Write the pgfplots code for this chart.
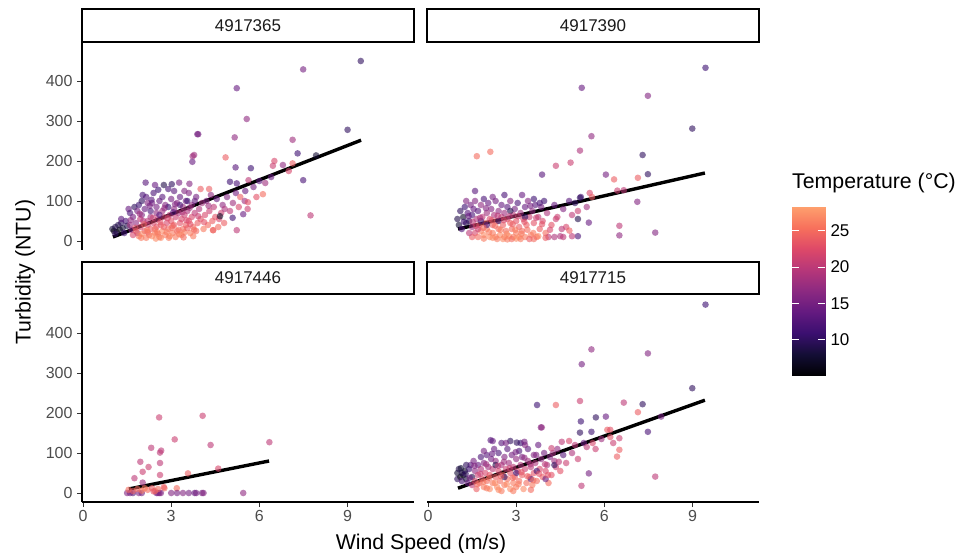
\documentclass[border=0pt]{standalone}
\usepackage{pgfplots}
\pgfplotsset{compat=1.18}
\usepackage{pgfplotstable}
\usepgfplotslibrary{patchplots}
\usepackage{fontspec}
\setmainfont{Liberation Sans}
\definecolor{tickgray}{HTML}{4D4D4D}
\definecolor{tickline}{HTML}{333333}
\definecolor{stripgray}{HTML}{1A1A1A}

\pgfplotsset{
  colormap={magma}{rgb255=(0,0,4) rgb255=(20,14,54) rgb255=(59,15,112) rgb255=(100,26,128) rgb255=(140,41,129) rgb255=(183,55,121) rgb255=(222,73,104) rgb255=(247,112,92) rgb255=(254,159,109)},
  panel/.style={
    scale only axis, width=332pt, height=208pt, anchor=south west,
    xmin=-0.034, xmax=11.26, ymin=-22.5, ymax=497.5,
    xtick={0,3,6,9}, ytick={0,100,200,300,400},
    colormap name=magma, point meta min=5.1, point meta max=28.3,
    tick align=outside, major tick length=5pt,
    tick style={tickline, line width=0.9pt},
    axis line style={black, line width=1.1pt, -},
    ticklabel style={font=\fontsize{16}{18}\selectfont, text=tickgray},
    yticklabel style={xshift=-1pt},
    /pgf/number format/assume math mode=true,
    clip=false,
  },
  pts/.style={scatter, only marks, mark=*, mark size=3.3pt,
    scatter/use mapped color={draw opacity=0, fill=mapped color, fill opacity=0.6},
    point meta=explicit},
  fit/.style={black, line width=3.4pt, line cap=butt},
}

\pgfplotstableread{
x y t
1.0 30 8
1.05 25 6
1.1 35 9
1.15 22 7
1.2 40 9
1.25 28 6
1.3 45 10
1.35 32 8
1.4 20 11
1.45 50 12
1.5 38 9
1.1 18 10
1.3 55 13
1.55 80 14
1.6 70 12
1.65 28 16
1.7 60 15
1.75 85 10
1.8 45 17
1.85 20 19
1.9 90 11
1.95 35 22
2.0 65 16
2.05 50 19
2.1 25 23
2.1 80 14
2.15 110 13
2.2 40 21
2.25 15 25
2.3 60 18
2.3 30 24
2.35 95 15
2.4 45 22
2.4 120 12
2.45 20 26
2.5 70 17
2.5 35 23
2.55 55 20
2.6 10 25
2.6 100 14
2.65 40 24
2.7 75 18
2.7 25 27
2.75 60 21
2.8 90 16
2.8 15 26
2.85 45 22
2.9 130 12
2.9 30 25
2.95 65 20
3.0 50 23
3.0 105 15
3.05 20 26
3.1 80 17
3.1 40 24
3.15 60 21
3.2 95 16
3.2 25 25
3.25 70 19
3.3 45 23
3.3 110 14
3.35 55 22
3.4 85 18
3.4 30 25
3.45 65 21
3.5 100 15
3.5 40 24
3.55 75 19
3.6 50 23
3.6 120 16
3.65 20 26
3.7 60 22
3.7 90 17
3.75 35 25
3.8 70 20
3.85 110 15
3.9 45 24
3.95 80 19
4.0 55 23
4.0 130 24
4.05 95 18
4.1 30 26
4.15 65 22
4.2 100 16
4.25 40 25
4.3 75 21
4.35 115 17
4.4 50 24
4.45 85 20
4.5 60 23
4.55 105 14
4.6 35 25
4.7 70 21
4.75 90 17
4.8 45 24
4.9 110 16
5.0 75 20
5.1 95 18
5.2 120 15
5.3 85 22
5.35 110 24
5.5 100 18
5.6 80 21
5.8 135 15
5.9 110 23
6.0 150 13
6.2 145 18
6.4 160 14
6.8 190 17
7.0 175 22
1.8 25 25
1.9 12 26
2.0 18 27
2.15 8 26
2.2 22 25
2.35 12 27
2.45 30 25
2.55 18 26
2.65 8 27
2.75 35 24
2.85 22 26
2.95 12 27
3.05 38 24
3.15 10 26
3.25 28 25
3.35 15 27
3.45 22 26
3.55 32 24
3.65 42 23
3.75 12 26
3.85 25 25
2.2 50 20
2.5 85 15
2.6 65 13
2.7 110 13
2.3 75 12
2.0 100 10
1.85 75 15
2.45 140 14
2.75 140 9
2.9 85 11
3.1 125 13
3.3 90 12
3.45 125 16
3.55 100 11
3.8 100 14
2.2 95 16
1.6 40 18
1.7 15 22
1.95 55 20
1.62 52 17
1.78 33 23
1.93 68 18
2.07 42 24
2.18 27 26
2.27 88 15
2.38 58 21
2.52 22 26
2.63 47 23
2.77 82 17
2.88 57 22
3.02 33 25
3.13 92 16
3.27 17 26
3.38 72 19
3.52 52 22
3.63 83 18
3.78 28 25
3.92 62 21
4.12 47 23
4.27 88 18
4.42 27 26
4.63 55 22
4.82 80 19
2.03 115 12
2.56 128 11
3.07 72 13
2.33 103 13
1.98 8 26
2.48 6 27
2.92 8 26
3.42 9 25
9.45 450 10
7.49 429 15
5.23 382 14
5.57 305 17
3.89 267 15
3.92 267 15
5.16 259 17
9.0 278 10
7.13 253 18
3.78 215 18
3.73 212 18
3.72 198 14
7.3 219 11
7.93 214 8
7.49 152 12
7.74 64 20
4.85 209 24
6.51 200 22
6.46 188 21
7.13 194 24
5.19 184 13
5.71 182 11
5.63 152 20
6.12 117 25
5.23 144 12
5.52 125 14
5.61 97 23
5.45 67 14
5.09 58 11
5.23 27 20
4.43 27 24
4.66 62 7
2.13 146 13
3.02 142 10
3.27 146 15
3.62 143 16
4.29 130 24
5.0 148 11
}\dataA

\pgfplotstableread{
x y t
1.0 55 9
1.05 40 8
1.1 75 10
1.15 30 12
1.2 60 7
1.25 85 11
1.3 45 9
1.35 70 13
1.4 50 10
1.45 90 15
1.5 35 18
1.5 65 12
1.55 80 14
1.6 20 22
1.6 100 16
1.65 55 19
1.7 10 25
1.7 75 13
1.75 40 23
1.8 90 17
1.8 25 26
1.85 60 20
1.9 15 27
1.9 105 12
1.95 45 24
2.0 70 18
2.0 30 26
2.05 95 14
2.1 10 27
2.1 55 22
2.15 80 16
2.2 20 26
2.2 40 24
2.25 65 19
2.3 10 26
2.3 100 15
2.35 50 23
2.4 30 25
2.4 75 17
2.45 15 27
2.5 60 21
2.5 90 14
2.55 40 24
2.6 10 26
2.6 70 18
2.65 25 25
2.7 55 22
2.7 85 13
2.75 12 27
2.8 45 24
2.8 100 16
2.85 30 25
2.9 65 20
2.9 10 26
2.95 80 15
3.0 20 26
3.0 50 23
3.05 95 12
3.1 35 24
3.1 10 27
3.15 70 18
3.2 25 25
3.25 55 22
3.3 85 14
3.3 10 26
3.35 40 24
3.4 100 16
3.45 60 21
3.5 15 26
3.55 75 17
3.6 45 23
3.65 90 13
3.7 10 25
3.75 60 20
3.8 30 24
3.85 85 15
3.9 50 22
3.95 100 11
4.0 20 25
4.05 70 19
4.1 10 20
4.2 40 23
4.3 90 14
4.4 60 21
4.5 12 19
4.6 80 16
4.7 35 22
4.8 100 13
4.9 65 20
5.0 95 10
5.1 75 21
5.2 110 12
5.4 85 18
5.5 120 22
1.3 100 16
1.6 125 13
2.2 110 15
2.6 115 12
3.2 115 14
3.6 105 11
2.0 40 12
2.4 50 10
1.8 50 11
2.8 75 9
3.3 60 10
3.8 95 12
1.5 10 24
2.35 5 26
2.55 5 27
2.85 5 25
3.15 5 26
3.45 5 24
3.75 12 27
4.0 8 24
4.3 10 19
4.6 10 20
1.4 20 20
1.7 30 21
1.22 48 11
1.38 62 14
1.52 48 20
1.63 38 22
1.77 58 19
1.88 33 25
1.97 82 16
2.08 22 26
2.17 52 23
2.28 38 25
2.37 63 20
2.47 28 26
2.58 52 22
2.68 18 27
2.77 62 20
2.88 42 24
2.97 28 26
3.07 62 21
3.18 18 26
3.28 48 23
3.38 28 25
3.48 88 15
3.58 20 26
3.68 58 21
3.88 42 23
4.15 28 22
4.35 55 21
4.55 30 20
1.9 6 26
2.2 8 27
2.7 4 26
3.0 6 27
3.6 5 25
9.44 433 11
5.23 383 14
7.48 363 16
8.99 281 10
5.56 262 17
5.17 226 19
1.66 212 25
2.12 223 25
7.3 215 10
4.35 188 21
4.85 196 21
3.88 166 13
6.05 166 15
6.33 154 24
7.14 158 24
7.48 167 10
7.12 98 16
6.51 38 20
6.51 14 17
7.73 21 16
6.66 127 20
6.44 126 21
5.47 46 14
5.1 55 9
5.17 108 10
5.58 110 24
5.1 12 12
4.9 12 20
4.81 26 24
}\dataB

\pgfplotstableread{
x y t
2.59 189 21
4.07 193 21
3.12 134 21
4.34 120 20
6.34 127 20
2.32 113 20
2.66 106 20
2.62 101 20
1.95 78 20
2.23 65 21
2.03 53 21
2.62 75 20
2.62 45 21
1.75 37 20
3.57 49 24
4.6 61 22
2.03 26 18
3.19 12 25
2.77 12 25
1.5 0 16
1.6 0 15
1.7 0 13
1.9 0 16
2.0 0 15
2.5 0 14
2.55 0 16
2.6 0 15
2.65 0 16
3.0 0 16
3.2 0 15
3.4 0 16
3.6 0 15
3.8 0 14
3.85 0 15
4.05 0 15
4.1 0 16
5.45 0 17
1.55 8 25
1.7 5 24
1.85 10 25
2.0 6 26
2.2 8 25
2.35 12 24
2.45 5 26
2.55 10 25
2.75 15 24
2.4 4 23
2.1 12 26
}\dataC

\pgfplotstableread{
x y t
1.0 50 8
1.0 35 10
1.05 60 9
1.1 40 6
1.15 30 12
1.2 45 6
1.25 55 7
1.3 35 8
1.35 25 14
1.4 60 11
1.45 70 13
1.5 40 9
1.5 20 20
1.55 80 15
1.6 30 22
1.6 55 17
1.65 10 24
1.7 70 14
1.7 45 21
1.75 25 25
1.8 90 12
1.8 60 19
1.85 35 23
1.9 15 26
1.9 75 16
1.95 50 22
2.0 95 13
2.0 30 25
2.05 65 18
2.1 10 27
2.1 45 23
2.15 85 15
2.2 25 26
2.2 60 20
2.25 110 14
2.3 40 24
2.3 80 17
2.35 15 27
2.4 55 22
2.4 100 12
2.45 30 25
2.5 70 19
2.5 5 26
2.55 45 24
2.6 90 16
2.6 20 26
2.65 60 21
2.7 110 13
2.7 35 25
2.75 75 18
2.8 10 27
2.8 50 23
2.85 95 15
2.9 25 26
2.9 65 20
2.95 40 24
3.0 85 17
3.0 15 26
3.05 55 22
3.1 105 12
3.1 30 25
3.15 70 19
3.2 45 24
3.2 90 15
3.25 10 27
3.3 60 21
3.35 25 25
3.4 80 18
3.4 110 13
3.45 40 24
3.5 65 20
3.55 20 26
3.6 95 16
3.6 50 23
3.65 75 19
3.7 30 25
3.75 120 14
3.8 60 22
3.85 85 17
3.9 40 24
3.95 100 15
4.0 55 22
4.05 70 19
4.1 25 25
4.15 90 16
4.2 45 23
4.3 80 18
4.35 65 21
4.4 110 17
4.5 55 23
4.6 95 13
4.7 75 21
4.8 130 22
4.9 100 19
5.0 120 20
5.1 85 21
5.3 125 14
5.4 115 20
5.6 125 22
5.7 110 21
5.9 135 18
6.2 140 23
6.3 125 21
2.2 130 14
2.5 125 13
2.8 130 10
1.9 105 15
3.3 120 16
3.0 50 11
2.6 40 10
2.3 70 9
3.5 35 12
4.0 35 14
4.3 70 10
3.7 55 11
1.3 70 10
1.15 50 9
1.12 62 8
1.28 48 10
1.42 38 15
1.58 68 16
1.68 22 25
1.78 48 21
1.88 28 26
1.98 72 18
2.08 38 25
2.18 98 14
2.28 25 27
2.38 68 20
2.48 42 24
2.58 78 18
2.68 22 27
2.78 62 21
2.88 38 25
2.98 102 15
3.08 22 26
3.18 52 23
3.28 88 17
3.38 42 24
3.48 72 19
3.58 32 25
3.68 95 16
3.78 48 23
3.98 72 20
4.08 45 23
4.25 100 18
4.45 78 20
2.0 12 26
2.4 8 27
2.9 5 26
3.5 8 25
3.15 125 11
2.65 125 15
4.55 128 20
4.2 112 21
9.44 471 11
5.56 359 17
5.23 322 15
7.48 349 16
8.99 262 10
3.71 220 11
4.35 220 24
5.17 230 21
6.66 226 20
7.3 222 10
7.14 202 24
7.93 191 15
5.71 189 10
6.05 191 14
5.2 179 11
3.84 164 16
3.87 164 17
5.17 151 10
5.56 153 11
6.1 158 24
6.2 158 23
7.48 153 12
6.51 137 21
6.51 108 24
6.43 91 24
7.73 41 20
5.22 18 20
5.47 49 15
2.13 132 13
3.02 126 10
3.28 128 15
}\dataD

\begin{document}
\begin{tikzpicture}
\useasboundingbox (0pt,0pt) rectangle (964pt,-553pt);

% top-left
\begin{axis}[panel, at={(82pt,-250pt)}, axis x line=none, axis y line*=left, xtick=\empty]
\addplot[pts] table[x=x,y=y,meta=t] {\dataA};
\addplot[fit] coordinates {(1.02,10) (9.46,252)};
\end{axis}

% top-right
\begin{axis}[panel, at={(427pt,-250pt)}, axis x line=none, axis y line=none, xtick=\empty, ytick=\empty]
\addplot[pts] table[x=x,y=y,meta=t] {\dataB};
\addplot[fit] coordinates {(1.02,30) (9.42,170)};
\end{axis}

% bottom-left
\begin{axis}[panel, at={(82pt,-502pt)}, axis x line*=bottom, axis y line*=left]
\addplot[pts] table[x=x,y=y,meta=t] {\dataC};
\addplot[fit] coordinates {(1.56,10) (6.33,80)};
\end{axis}

% bottom-right
\begin{axis}[panel, at={(427pt,-502pt)}, axis x line*=bottom, axis y line=none, ytick=\empty]
\addplot[pts] table[x=x,y=y,meta=t] {\dataD};
\addplot[fit] coordinates {(1.02,12) (9.42,232)};
\end{axis}

% strips
\foreach \xa/\xb/\ya/\yb/\lab in {82/414/-9/-42/4917365, 427/759/-9/-42/4917390, 82/414/-262/-294/4917446, 427/759/-262/-294/4917715}{
  \draw[line width=1.1pt, fill=white] (\xa pt,\ya pt) rectangle (\xb pt,\yb pt);
  \node[anchor=base, text=stripgray, font=\fontsize{17}{19}\selectfont, inner sep=0pt] at ({(\xa+\xb)/2*1pt}, {(\yb+10)*1pt}) {\lab};
}

% axis titles
\node[rotate=90, font=\fontsize{21.3}{24}\selectfont, inner sep=0pt] at (25pt,-272pt) {Turbidity (NTU)};
\node[anchor=base, font=\fontsize{21.3}{24}\selectfont, inner sep=0pt] at (421pt,-549pt) {Wind Speed (m/s)};

% legend
\node[anchor=base west, font=\fontsize{21.3}{24}\selectfont, inner sep=0pt] at (792pt,-189pt) {Temperature (°C)};
\begin{axis}[scale only axis, width=33pt, height=168pt, at={(792pt,-375pt)}, anchor=south west,
  xmin=0, xmax=1, ymin=5.1, ymax=28.3, xtick=\empty, ytick={10,15,20,25},
  yticklabel pos=right, ytick pos=both,
  tick align=inside, major tick length=7pt, tick style={white, line width=0.9pt},
  axis line style={draw=none}, axis on top,
  colormap name=magma, point meta min=5.1, point meta max=28.3,
  yticklabel style={font=\fontsize{17}{19}\selectfont, text=black, xshift=2pt},
  /pgf/number format/assume math mode=true]
\addplot[patch, patch type=rectangle, shader=interp, point meta=y] coordinates {
(0,5.1) (1,5.1) (1,9) (0,9)
(0,9) (1,9) (1,12.8) (0,12.8)
(0,12.8) (1,12.8) (1,16.7) (0,16.7)
(0,16.7) (1,16.7) (1,20.5) (0,20.5)
(0,20.5) (1,20.5) (1,24.4) (0,24.4)
(0,24.4) (1,24.4) (1,28.3) (0,28.3)
};
\end{axis}
\end{tikzpicture}
\end{document}
